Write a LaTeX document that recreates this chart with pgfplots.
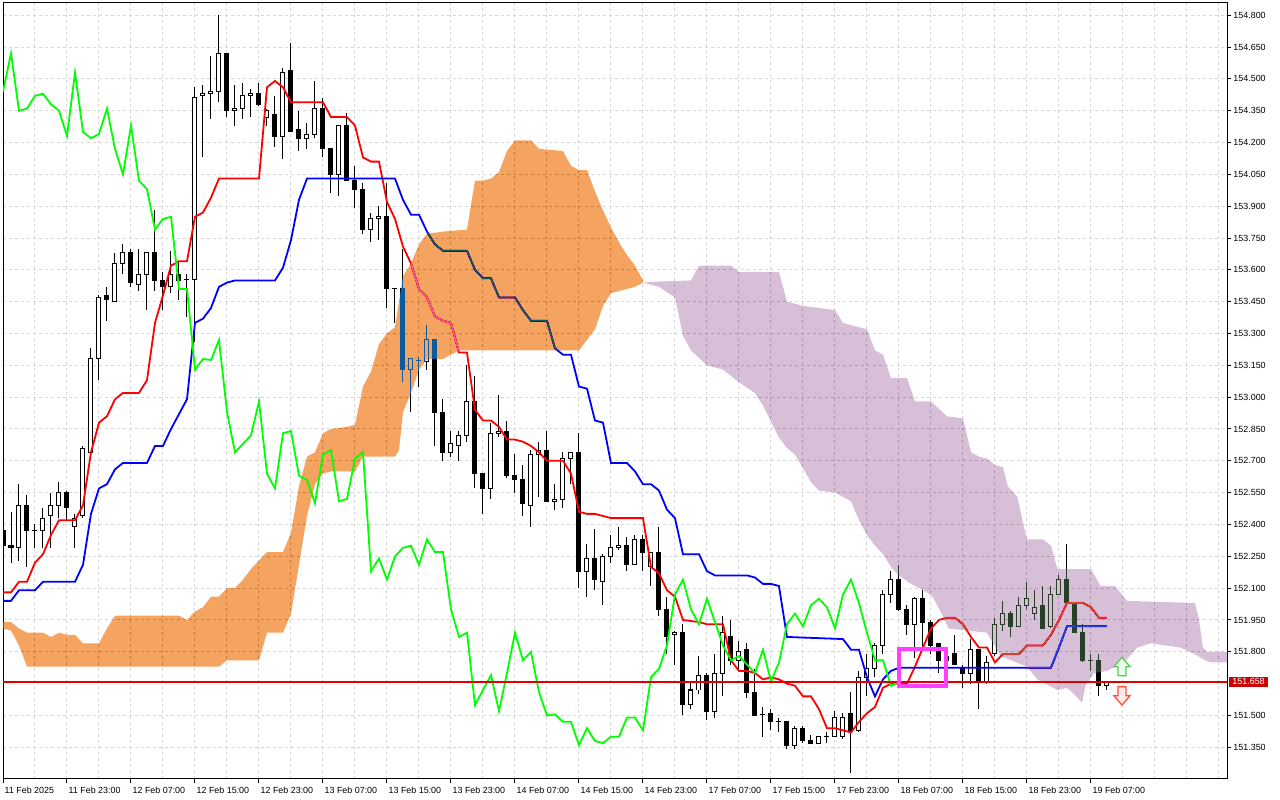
\documentclass[border=0pt]{standalone}
\usepackage{fontspec}
\setmainfont{Liberation Sans}
\usepackage{pgfplots}
\usepackage{pgfplotstable}
\pgfplotsset{compat=1.18}

\definecolor{gridc}{RGB}{216,216,216}
\definecolor{oX}{RGB}{11,91,159}
\definecolor{pX}{RGB}{39,64,39}
\definecolor{pricered}{RGB}{204,0,0}
\definecolor{priceline}{RGB}{225,0,0}
\definecolor{mag}{RGB}{255,64,255}
\definecolor{arrg}{RGB}{90,200,90}
\definecolor{arrgf}{RGB}{235,255,235}
\definecolor{arrr}{RGB}{255,80,60}
\definecolor{arrrf}{RGB}{255,235,235}

\pgfplotstableread{
i O H L C
0 152.37 152.42 152.22 152.30
1 152.30 152.46 152.22 152.29
3 152.49 152.54 152.20 152.37
4 152.37 152.40 152.29 152.37
8 152.55 152.56 152.42 152.48
13 153.48 153.52 153.36 153.46
16 153.68 153.70 153.52 153.54
19 153.68 153.88 153.50 153.55
20 153.55 153.59 153.41 153.52
22 153.58 153.63 153.46 153.55
23 153.555 153.58 153.38 153.555
28 154.62 154.62 154.32 154.35
32 154.43 154.48 154.37 154.38
34 154.33 154.42 154.18 154.23
36 154.54 154.67 154.25 154.25
37 154.26 154.35 154.16 154.22
40 154.36 154.41 154.13 154.17
41 154.17 154.17 153.96 154.05
43 154.28 154.34 154.02 154.02
44 154.02 154.09 153.89 153.98
45 153.98 154.01 153.77 153.79
48 153.85 154.01 153.42 153.51
49 153.51 153.51 153.35 153.51
50 153.51 153.70 153.07 153.13
52 153.175 153.19 153.05 153.175
54 153.27 153.27 152.77 152.93
55 152.93 152.99 152.70 152.74
59 152.98 153.10 152.57 152.64
60 152.64 152.64 152.45 152.57
63 152.84 152.89 152.62 152.63
64 152.63 152.73 152.55 152.61
65 152.61 152.68 152.44 152.50
68 152.75 152.84 152.51 152.51
72 152.74 152.83 152.10 152.18
74 152.24 152.38 152.09 152.14
78 152.30 152.34 152.18 152.21
80 152.33 152.35 152.18 152.27
82 152.27 152.39 151.97 152.00
83 152.00 152.06 151.79 151.87
85 151.89 151.93 151.50 151.55
88 151.69 151.70 151.48 151.52
91 151.87 151.95 151.74 151.76
93 151.81 151.84 151.58 151.61
94 151.61 151.72 151.50 151.50
95 151.505 151.54 151.40 151.505
96 151.51 151.53 151.43 151.47
97 151.47 151.49 151.42 151.47
98 151.47 151.47 151.34 151.36
100 151.44 151.45 151.37 151.38
101 151.38 151.41 151.37 151.37
103 151.40 151.42 151.37 151.40
106 151.51 151.61 151.23 151.43
112 152.14 152.21 151.99 152.00
113 152.00 152.02 151.88 151.93
115 152.05 152.09 151.82 151.94
116 151.94 151.95 151.79 151.83
117 151.84 151.84 151.70 151.76
119 151.79 151.88 151.74 151.74
120 151.72 151.74 151.63 151.70
122 151.81 151.81 151.53 151.66
126 151.98 151.99 151.87 151.92
130 152.02 152.11 151.91 151.91
133 152.14 152.31 152.03 152.03
134 152.03 152.03 151.89 151.89
135 151.89 151.93 151.75 151.76
136 151.76 151.79 151.71 151.76
137 151.76 151.79 151.59 151.64
}\bear

\pgfplotstableread{
i O H L C
2 152.29 152.59 152.23 152.49
5 152.37 152.48 152.29 152.43
6 152.44 152.55 152.29 152.49
7 152.49 152.60 152.43 152.55
9 152.39 152.45 152.29 152.43
10 152.44 152.77 152.43 152.76
11 152.74 153.23 152.74 153.18
12 153.18 153.48 153.08 153.47
14 153.45 153.68 153.45 153.63
15 153.63 153.72 153.58 153.68
17 153.53 153.70 153.50 153.58
18 153.58 153.68 153.41 153.68
21 153.52 153.69 153.49 153.58
24 153.555 154.46 153.26 154.41
25 154.42 154.47 154.13 154.43
26 154.43 154.61 154.31 154.44
27 154.44 154.80 154.39 154.62
29 154.35 154.47 154.28 154.36
30 154.36 154.48 154.31 154.42
31 154.42 154.45 154.32 154.43
33 154.32 154.36 154.28 154.35
35 154.23 154.55 154.12 154.53
38 154.22 154.29 154.17 154.24
39 154.24 154.49 154.22 154.36
42 154.05 154.28 153.95 154.28
46 153.79 153.87 153.73 153.84
47 153.84 153.90 153.74 153.85
51 153.13 153.18 152.93 153.18
53 153.17 153.34 153.13 153.27
56 152.74 152.84 152.72 152.78
57 152.77 152.84 152.70 152.82
58 152.82 153.15 152.79 152.98
61 152.57 152.88 152.52 152.83
62 152.83 153.01 152.81 152.84
66 152.49 152.75 152.39 152.73
67 152.73 152.79 152.53 152.75
69 152.51 152.59 152.47 152.52
70 152.52 152.74 152.48 152.71
71 152.71 152.74 152.59 152.74
73 152.18 152.31 152.06 152.24
75 152.13 152.26 152.02 152.25
76 152.25 152.35 152.22 152.29
77 152.29 152.39 152.28 152.30
79 152.21 152.35 152.21 152.33
81 152.20 152.27 152.11 152.27
84 151.88 151.90 151.74 151.89
86 151.55 151.66 151.53 151.62
87 151.62 151.78 151.60 151.69
89 151.52 151.79 151.49 151.70
90 151.70 151.97 151.59 151.89
92 151.76 151.85 151.72 151.80
99 151.36 151.45 151.34 151.44
102 151.37 151.40 151.37 151.40
104 151.40 151.52 151.40 151.49
105 151.40 151.51 151.39 151.49
107 151.43 151.71 151.42 151.68
108 151.68 151.79 151.59 151.72
109 151.72 151.84 151.68 151.83
110 151.83 152.09 151.79 152.07
111 152.07 152.18 152.03 152.14
114 151.93 152.06 151.77 152.05
118 151.76 151.80 151.72 151.78
121 151.70 151.86 151.65 151.81
123 151.66 151.78 151.65 151.75
124 151.79 151.96 151.78 151.93
125 151.93 152.04 151.90 151.98
127 151.92 152.06 151.92 152.02
128 152.02 152.13 152.00 152.05
129 151.98 152.09 151.95 152.01
131 151.92 152.11 151.91 152.07
132 152.07 152.16 152.07 152.14
138 151.64 151.66 151.62 151.658
}\bull

\pgfplotsset{candle/.style={only marks, mark=*, mark size=0pt, mark options={draw=none, fill=none}, forget plot}}

\begin{document}
\begin{tikzpicture}
\fill[white] (0,0) rectangle (1280pt,800pt);
\begin{axis}[
  at={(3pt,21pt)}, anchor=south west,
  scale only axis, width=1224.3pt, height=776pt,
  xmin=0, xmax=153.04, ymin=151.2006, ymax=154.8575,
  axis line style={black, line width=1pt},
  xtick={0,8,16,24,32,40,48,56,64,72,80,88,96,104,112,120,128,136},
  xticklabels={11 Feb 2025,11 Feb 23:00,12 Feb 07:00,12 Feb 15:00,12 Feb 23:00,13 Feb 07:00,13 Feb 15:00,13 Feb 23:00,14 Feb 07:00,14 Feb 15:00,14 Feb 23:00,17 Feb 07:00,17 Feb 15:00,17 Feb 23:00,18 Feb 07:00,18 Feb 15:00,18 Feb 23:00,19 Feb 07:00},
  minor xtick={4,12,20,28,36,44,52,60,68,76,84,92,100,108,116,124,132,140,144,148,152},
  ytick={151.35,151.5,151.8,151.95,152.1,152.25,152.4,152.55,152.7,152.85,153,153.15,153.3,153.45,153.6,153.75,153.9,154.05,154.2,154.35,154.5,154.65,154.8},
  xtick pos=left, ytick pos=right, yticklabel pos=right,
  tick align=outside, major tick length=4pt, minor tick length=0pt,
  tick style={black, line width=1pt},
  grid=both,
  major grid style={gridc, line width=1pt, dash pattern=on 3pt off 3pt},
  minor grid style={gridc, line width=1pt, dash pattern=on 3pt off 3pt},
  tick label style={font=\fontsize{8.9}{10}\selectfont, text=black},
  xticklabel style={anchor=north west, inner sep=0pt, xshift=1.5pt, yshift=-3.5pt},
  yticklabel style={anchor=west, inner sep=0pt, xshift=2pt},
  y tick label style={/pgf/number format/fixed, /pgf/number format/fixed zerofill, /pgf/number format/precision=3},
  /pgf/number format/assume math mode=true,
  extra y ticks={151.658}, extra y tick labels={151.658},
  extra y tick style={grid=none, major tick length=0pt, yticklabel style={fill=pricered, text=white, inner xsep=3pt, inner ysep=1.5pt}},
]
% wicks
\addplot[candle, error bars/.cd, y dir=plus, y explicit, error mark=none, error bar style={draw=black, line width=1pt}] table[x=i, y=L, y error expr=\thisrow{H}-\thisrow{L}] {\bear};
\addplot[candle, error bars/.cd, y dir=plus, y explicit, error mark=none, error bar style={draw=black, line width=1pt}] table[x=i, y=L, y error expr=\thisrow{H}-\thisrow{L}] {\bull};
% bearish bodies
\addplot[candle, error bars/.cd, y dir=plus, y explicit, error mark=none, error bar style={draw=black, line width=5pt}] table[x=i, y expr=\thisrow{C}-0.00236, y error expr=\thisrow{O}-\thisrow{C}+0.00472] {\bear};
% bullish bodies (outline + white inside)
\addplot[candle, error bars/.cd, y dir=plus, y explicit, error mark=none, error bar style={draw=black, line width=5pt}] table[x=i, y expr=\thisrow{O}-0.00236, y error expr=\thisrow{C}-\thisrow{O}+0.00472] {\bull};
\addplot[candle, error bars/.cd, y dir=plus, y explicit, error mark=none, error bar style={draw=white, line width=3pt}] table[x=i, y expr=\thisrow{O}+0.00236, y error expr=\thisrow{C}-\thisrow{O}-0.00472] {\bull};

% Tenkan-sen
\addplot[red, line width=1.8pt, mark=none] coordinates {(0,152.08)(1,152.08)(2,152.13)(3,152.13)(4,152.22)(5,152.26)(6,152.35)(7,152.42)(9,152.42)(10,152.49)(11,152.74)(12,152.88)(13,152.91)(14,152.99)(15,153.02)(17,153.02)(18,153.08)(19,153.35)(20,153.48)(21,153.62)(22,153.64)(23,153.64)(24,153.85)(25,153.87)(26,153.94)(27,154.03)(32,154.03)(33,154.46)(34,154.49)(35,154.46)(36,154.39)(40,154.39)(41,154.32)(43,154.32)(44,154.28)(45,154.13)(46,154.11)(47,154.11)(48,153.92)(49,153.84)(50,153.71)(51,153.63)(52,153.51)(53,153.47)(54,153.38)(55,153.36)(56,153.35)(57,153.21)(58,153.21)(59,152.94)(60,152.89)(61,152.89)(62,152.86)(63,152.80)(64,152.80)(65,152.79)(66,152.77)(67,152.74)(68,152.70)(70,152.70)(71,152.64)(72,152.46)(73,152.45)(74,152.45)(75,152.44)(76,152.43)(80,152.43)(81,152.20)(82,152.17)(83,152.09)(84,152.06)(85,151.95)(87,151.94)(88,151.93)(90,151.93)(91,151.76)(92,151.71)(93,151.71)(94,151.70)(95,151.67)(96,151.68)(97,151.67)(98,151.65)(99,151.64)(100,151.59)(101,151.59)(102,151.53)(103,151.44)(104,151.44)(105,151.43)(106,151.42)(107,151.47)(108,151.51)(109,151.54)(110,151.63)(111,151.65)(113,151.65)(114,151.73)(115,151.82)(116,151.91)(117,151.95)(118,151.96)(119,151.96)(120,151.93)(121,151.87)(122,151.82)(123,151.82)(124,151.75)(125,151.79)(127,151.79)(128,151.83)(130,151.83)(131,151.88)(132,151.95)(133,152.03)(135,152.03)(136,152.01)(137,151.96)(138,151.96)};

% Kijun-sen
\addplot[blue, line width=1.8pt, mark=none] coordinates {(0,152.04)(1,152.04)(2,152.09)(4,152.09)(5,152.13)(9,152.13)(10,152.21)(11,152.45)(12,152.57)(13,152.59)(14,152.66)(15,152.69)(18,152.69)(19,152.77)(20,152.77)(21,152.85)(22,152.92)(23,152.99)(24,153.35)(25,153.37)(26,153.42)(27,153.52)(28,153.54)(29,153.55)(34,153.55)(35,153.61)(36,153.74)(37,153.93)(38,154.03)(49,154.03)(50,153.93)(51,153.86)(52,153.86)(53,153.78)(54,153.72)(55,153.69)(58,153.69)(59,153.60)(60,153.56)(61,153.56)(62,153.47)(64,153.47)(65,153.41)(66,153.36)(68,153.36)(69,153.23)(70,153.20)(71,153.20)(72,153.05)(73,153.04)(74,152.89)(75,152.88)(76,152.69)(78,152.69)(79,152.65)(80,152.59)(81,152.59)(82,152.56)(83,152.47)(84,152.43)(85,152.26)(87,152.26)(88,152.18)(89,152.16)(93,152.16)(94,152.15)(95,152.12)(96,152.12)(97,152.11)(98,151.87)(105,151.86)(106,151.81)(107,151.81)(108,151.68)(109,151.59)(110,151.67)(111,151.71)(112,151.725)(131,151.725)(132,151.82)(133,151.92)(138,151.92)};

% Kumo (bullish part), drawn in difference mode
\addplot[draw=none, fill=oX, blend mode=difference] coordinates {(0,151.94)(1,151.94)(2,151.91)(3,151.89)(5,151.89)(6,151.87)(7,151.89)(8,151.88)(9,151.88)(10,151.84)(12,151.84)(13,151.91)(14,151.97)(22,151.97)(23,151.95)(24,151.99)(25,152.01)(26,152.06)(27,152.06)(28,152.10)(29,152.10)(30,152.14)(31,152.19)(32,152.23)(33,152.27)(35,152.27)(36,152.36)(37,152.58)(38,152.72)(39,152.74)(40,152.83)(41,152.85)(43,152.86)(44,152.87)(45,153.05)(46,153.12)(47,153.25)(48,153.30)(49,153.33)(50,153.57)(51,153.63)(52,153.72)(53,153.77)(55,153.78)(58,153.79)(59,154.02)(60,154.02)(61,154.03)(62,154.06)(63,154.16)(64,154.21)(66,154.21)(67,154.17)(70,154.16)(71,154.09)(72,154.07)(73,154.07)(74,153.97)(75,153.88)(76,153.80)(77,153.73)(78,153.67)(79,153.62)(80,153.55)
(80,153.54)(79,153.52)(78,153.51)(77,153.50)(76,153.49)(75,153.43)(74,153.32)(73,153.27)(72,153.22)(57,153.22)(56,153.20)(55,153.18)(53,153.18)(52,153.13)(51,153.02)(50,152.93)(49.5,152.75)(49,152.72)(45,152.72)(44,152.65)(41,152.65)(40,152.64)(39,152.59)(38,152.44)(37,152.21)(36,151.98)(35,151.89)(33,151.89)(32,151.76)(28,151.76)(27,151.73)(3,151.73)(2,151.83)(1,151.90)(0,151.91)} -- cycle;

% Kumo (bearish part)
\addplot[draw=none, fill=pX, blend mode=difference] coordinates {(80,153.54)(82,153.545)(86,153.55)(87,153.62)(91,153.62)(92,153.59)(97,153.59)(98,153.45)(100,153.43)(104,153.41)(105,153.35)(107,153.33)(108,153.32)(109,153.22)(110,153.20)(111,153.09)(113,153.09)(114,152.98)(116,152.98)(118,152.91)(120,152.90)(121,152.74)(122,152.72)(123,152.71)(124,152.68)(125,152.67)(125.6,152.58)(126.8,152.53)(127.6,152.39)(128,152.33)(130,152.33)(131,152.30)(131.8,152.19)(136,152.19)(137.2,152.11)(139,152.11)(140.5,152.04)(149,152.03)(149.5,151.95)(150,151.82)(150.5,151.80)(153.2,151.80)
(153.2,151.75)(151,151.75)(150.3,151.76)(148.9,151.79)(147.2,151.82)(143.5,151.84)(141.8,151.82)(140.1,151.75)(138,151.71)(136.4,151.70)(135.3,151.64)(134.9,151.56)(133.9,151.60)(133,151.63)(131.8,151.62)(129.3,151.67)(128,151.73)(124.7,151.78)(123,151.89)(118.2,151.91)(117.2,151.99)(116.2,152.06)(115.1,152.09)(113.5,152.12)(112,152.16)(111,152.20)(110,152.26)(109,152.30)(108,152.35)(107,152.42)(106,152.51)(104,152.55)(102,152.56)(101,152.60)(99,152.73)(98,152.76)(97,152.81)(95,152.96)(94,153.02)(92,153.07)(90,153.13)(88,153.15)(86,153.22)(85,153.29)(84,153.47)(82,153.52)(80,153.54)} -- cycle;

% Chikou span
\addplot[green, line width=1.8pt, mark=none] coordinates {(0,154.44)(1,154.62)(2,154.35)(3,154.36)(4,154.42)(5,154.43)(6,154.38)(7,154.35)(8,154.23)(9,154.53)(10,154.25)(11,154.22)(12,154.24)(13,154.36)(14,154.17)(15,154.05)(16,154.28)(17,154.02)(18,153.98)(19,153.79)(20,153.84)(21,153.85)(22,153.51)(23,153.51)(24,153.13)(25,153.18)(26,153.175)(27,153.27)(28,152.93)(29,152.74)(30,152.78)(31,152.82)(32,152.98)(33,152.64)(34,152.57)(35,152.83)(36,152.84)(37,152.63)(38,152.61)(39,152.50)(40,152.73)(41,152.75)(42,152.51)(43,152.52)(44,152.71)(45,152.74)(46,152.18)(47,152.24)(48,152.14)(49,152.25)(50,152.29)(51,152.30)(52,152.21)(53,152.33)(54,152.27)(55,152.27)(56,152.00)(57,151.87)(58,151.89)(59,151.55)(60,151.62)(61,151.69)(62,151.52)(63,151.70)(64,151.89)(65,151.76)(66,151.80)(67,151.61)(68,151.50)(69,151.505)(70,151.47)(71,151.47)(72,151.36)(73,151.44)(74,151.38)(75,151.37)(76,151.40)(77,151.40)(78,151.49)(79,151.49)(80,151.43)(81,151.68)(82,151.72)(83,151.83)(84,152.07)(85,152.14)(86,152.00)(87,151.93)(88,152.05)(89,151.94)(90,151.83)(91,151.76)(92,151.78)(93,151.74)(94,151.70)(95,151.81)(96,151.66)(97,151.75)(98,151.93)(99,151.98)(100,151.92)(101,152.02)(102,152.05)(103,152.01)(104,151.91)(105,152.07)(106,152.14)(107,152.03)(108,151.89)(109,151.76)(110,151.76)(111,151.64)(112,151.658)};

% current price line
\addplot[priceline, line width=1.2pt, mark=none] coordinates {(0,151.658)(153.04,151.658)};

% highlight rectangle
\addplot[mag, line width=4pt, line join=miter, mark=none] coordinates {(111.95,151.813)(117.9,151.813)(117.9,151.641)(111.95,151.641)} -- cycle;

% arrows
\addplot[draw=arrg, fill=arrgf, line width=1.3pt, mark=none] coordinates {(139.875,151.774)(140.875,151.730)(140.375,151.730)(140.375,151.687)(139.375,151.687)(139.375,151.730)(138.875,151.730)} -- cycle;
\addplot[draw=arrr, fill=arrrf, line width=1.3pt, mark=none] coordinates {(139.375,151.636)(140.375,151.636)(140.375,151.593)(140.875,151.593)(139.875,151.549)(138.875,151.593)(139.375,151.593)} -- cycle;
\end{axis}
\pgfresetboundingbox
\path[use as bounding box] (0,0) rectangle (1280pt,800pt);
\end{tikzpicture}
\end{document}
